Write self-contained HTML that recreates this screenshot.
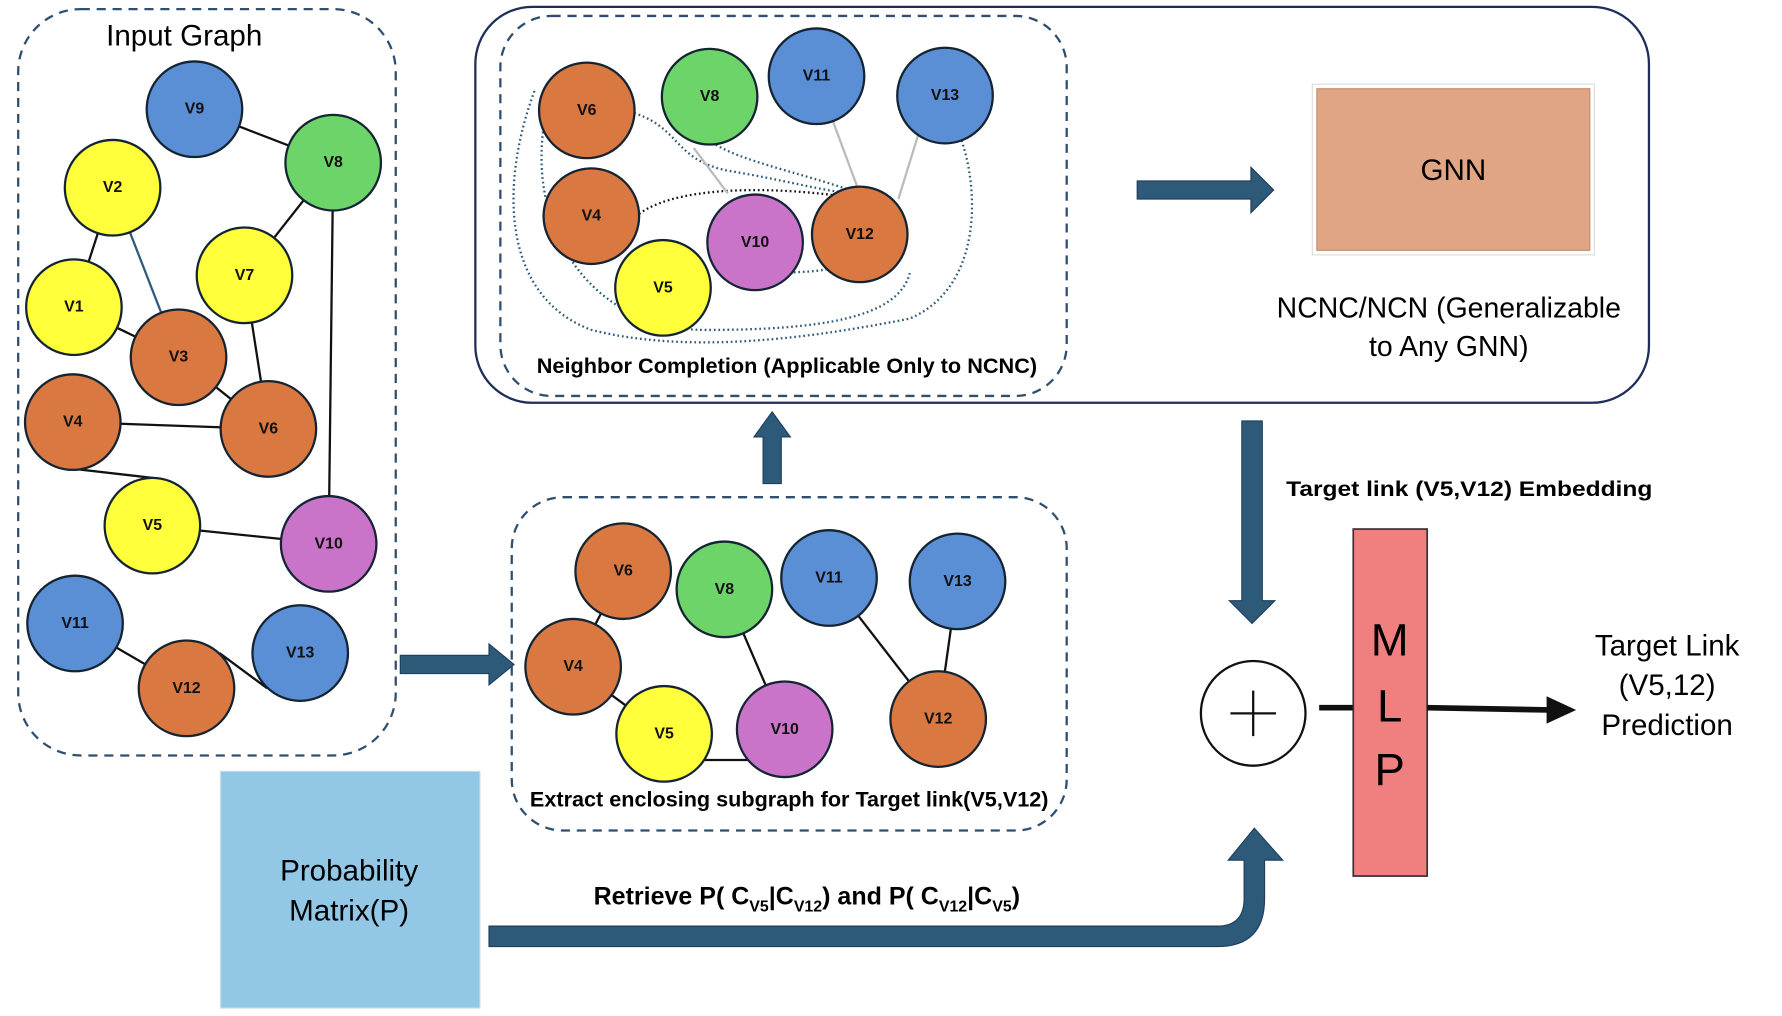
<!DOCTYPE html>
<html><head><meta charset="utf-8"><style>html,body{margin:0;padding:0;background:#fff}svg{display:block}</style></head><body>
<svg width="1782" height="1016" viewBox="0 0 1567 893" preserveAspectRatio="none" xmlns="http://www.w3.org/2000/svg" font-family="Liberation Sans, sans-serif">
<defs>
<style>
.n{stroke:#142433;stroke-width:2}
.b{fill:#5b8fd5}.g{fill:#6dd46a}.y{fill:#ffff3c}.o{fill:#d97840}.p{fill:#c974c8}
.t{font-size:14px;font-weight:bold;text-anchor:middle;dominant-baseline:central;fill:#111}
.e{stroke:#111;stroke-width:2;fill:none}
.d{stroke:#2e5a7a;stroke-width:2;fill:none;stroke-dasharray:1.5 2.5}
</style>
</defs>
<!-- Input graph -->
<rect x="16" y="8" width="332" height="656" rx="55" fill="none" stroke="#2e4f6f" stroke-width="2" stroke-dasharray="8 6"/>
<text x="162" y="40" font-size="26" text-anchor="middle">Input Graph</text>
<g>
<line class="e" x1="171" y1="96" x2="293" y2="143"/>
<line class="e" x1="293" y1="143" x2="215" y2="242"/>
<line class="e" x1="293" y1="143" x2="289" y2="478"/>
<line class="e" x1="99" y1="165" x2="65" y2="270"/>
<line x1="99" y1="165" x2="157" y2="314" stroke="#2e5a7a" stroke-width="2"/>
<line class="e" x1="65" y1="270" x2="157" y2="314"/>
<line class="e" x1="215" y1="242" x2="236" y2="377"/>
<line class="e" x1="157" y1="314" x2="236" y2="377"/>
<line class="e" x1="64" y1="371" x2="236" y2="377"/>
<polyline class="e" points="64,371 64,412 134,420 134,462"/>
<line class="e" x1="134" y1="462" x2="289" y2="478"/>
<line class="e" x1="66" y1="548" x2="164" y2="605"/>
<line class="e" x1="193" y1="574" x2="235" y2="605"/>
</g>
<g>
<circle class="n b" cx="171" cy="96" r="42"/><text class="t" x="171" y="96">V9</text>
<circle class="n g" cx="293" cy="143" r="42"/><text class="t" x="293" y="143">V8</text>
<circle class="n y" cx="99" cy="165" r="42"/><text class="t" x="99" y="165">V2</text>
<circle class="n y" cx="215" cy="242" r="42"/><text class="t" x="215" y="242">V7</text>
<circle class="n y" cx="65" cy="270" r="42"/><text class="t" x="65" y="270">V1</text>
<circle class="n o" cx="157" cy="314" r="42"/><text class="t" x="157" y="314">V3</text>
<circle class="n o" cx="64" cy="371" r="42"/><text class="t" x="64" y="371">V4</text>
<circle class="n o" cx="236" cy="377" r="42"/><text class="t" x="236" y="377">V6</text>
<circle class="n y" cx="134" cy="462" r="42"/><text class="t" x="134" y="462">V5</text>
<circle class="n p" cx="289" cy="478" r="42"/><text class="t" x="289" y="478">V10</text>
<circle class="n b" cx="66" cy="548" r="42"/><text class="t" x="66" y="548">V11</text>
<circle class="n o" cx="164" cy="605" r="42"/><text class="t" x="164" y="605">V12</text>
<circle class="n b" cx="264" cy="574" r="42"/><text class="t" x="264" y="574">V13</text>
</g>
<polygon points="352,576 430,576 430,566 452,584 430,602 430,592 352,592" fill="#2e5a7a" stroke="#1e3e5a"/>
<!-- subgraph -->
<rect x="450" y="437" width="488" height="293" rx="45" fill="none" stroke="#2e4f6f" stroke-width="2" stroke-dasharray="8 6"/>
<line class="e" x1="548" y1="502" x2="504" y2="586"/>
<line class="e" x1="504" y1="586" x2="584" y2="645"/>
<line class="e" x1="637" y1="518" x2="690" y2="641"/>
<line class="e" x1="584" y1="668" x2="690" y2="668"/>
<line class="e" x1="729" y1="508" x2="825" y2="632"/>
<line class="e" x1="842" y1="511" x2="825" y2="632"/>
<circle class="n o" cx="548" cy="502" r="42"/><text class="t" x="548" y="502">V6</text>
<circle class="n g" cx="637" cy="518" r="42"/><text class="t" x="637" y="518">V8</text>
<circle class="n b" cx="729" cy="508" r="42"/><text class="t" x="729" y="508">V11</text>
<circle class="n b" cx="842" cy="511" r="42"/><text class="t" x="842" y="511">V13</text>
<circle class="n o" cx="504" cy="586" r="42"/><text class="t" x="504" y="586">V4</text>
<circle class="n y" cx="584" cy="645" r="42"/><text class="t" x="584" y="645">V5</text>
<circle class="n p" cx="690" cy="641" r="42"/><text class="t" x="690" y="641">V10</text>
<circle class="n o" cx="825" cy="632" r="42"/><text class="t" x="825" y="632">V12</text>
<text x="694" y="709" font-size="19" font-weight="bold" text-anchor="middle" textLength="456" lengthAdjust="spacingAndGlyphs">Extract enclosing subgraph for Target link(V5,V12)</text>
<polygon points="671,425 671,384 663,384 679,362 695,384 687,384 687,425" fill="#2e5a7a" stroke="#1e3e5a"/>
<!-- top box -->
<rect x="418" y="6" width="1032" height="348" rx="50" fill="none" stroke="#1f2d5a" stroke-width="2"/>
<rect x="440" y="14" width="498" height="334" rx="45" fill="none" stroke="#2e4f6f" stroke-width="2" stroke-dasharray="8 6"/>
<path class="d" d="M470,80 C440,160 440,260 520,290 C600,310 700,300 800,280 C870,250 860,150 840,110"/>
<path class="d" d="M480,100 C460,200 520,290 620,290 C720,290 790,280 800,240"/>
<path class="d" d="M550,97 C600,110 590,140 640,150 C700,160 730,170 756,170"/>
<path class="d" d="M620,120 C640,140 700,150 756,170"/>
<path d="M562,188 C600,160 700,165 756,175" stroke="#111" stroke-width="2" stroke-dasharray="1.5 2.5" fill="none"/>
<path class="d" d="M690,240 C710,238 730,240 740,230"/>
<line x1="730" y1="100" x2="756" y2="170" stroke="#bbb" stroke-width="2"/>
<line x1="810" y1="110" x2="790" y2="175" stroke="#bbb" stroke-width="2"/>
<line x1="610" y1="130" x2="640" y2="170" stroke="#bbb" stroke-width="2"/>
<circle class="n o" cx="516" cy="97" r="42"/><text class="t" x="516" y="97">V6</text>
<circle class="n g" cx="624" cy="85" r="42"/><text class="t" x="624" y="85">V8</text>
<circle class="n b" cx="718" cy="67" r="42"/><text class="t" x="718" y="67">V11</text>
<circle class="n b" cx="831" cy="84" r="42"/><text class="t" x="831" y="84">V13</text>
<circle class="n o" cx="520" cy="190" r="42"/><text class="t" x="520" y="190">V4</text>
<circle class="n p" cx="664" cy="213" r="42"/><text class="t" x="664" y="213">V10</text>
<circle class="n o" cx="756" cy="206" r="42"/><text class="t" x="756" y="206">V12</text>
<circle class="n y" cx="583" cy="253" r="42"/><text class="t" x="583" y="253">V5</text>
<text x="692" y="328" font-size="19" font-weight="bold" text-anchor="middle" textLength="440" lengthAdjust="spacingAndGlyphs">Neighbor Completion (Applicable Only to NCNC)</text>
<polygon points="1000,159 1100,159 1100,147 1120,167 1100,187 1100,175 1000,175" fill="#2e5a7a" stroke="#1e3e5a"/>
<rect x="1154" y="74" width="248" height="150" fill="#fff" stroke="#ddd"/>
<rect x="1158" y="78" width="240" height="142" fill="#e0a585" stroke="#c48a6a"/>
<text x="1278" y="158" font-size="26" text-anchor="middle">GNN</text>
<text x="1274" y="279" font-size="25" text-anchor="middle">NCNC/NCN (Generalizable</text>
<text x="1274" y="313" font-size="25" text-anchor="middle">to Any GNN)</text>
<polygon points="1092,370 1110,370 1110,528 1121,528 1101,548 1081,528 1092,528" fill="#2e5a7a" stroke="#1e3e5a"/>
<text x="1131" y="436" font-size="19" font-weight="bold" textLength="322" lengthAdjust="spacingAndGlyphs">Target link (V5,V12) Embedding</text>
<circle cx="1102" cy="627" r="46" fill="#fff" stroke="#111" stroke-width="2"/>
<line x1="1082" y1="627" x2="1122" y2="627" stroke="#111" stroke-width="2"/>
<line x1="1102" y1="607" x2="1102" y2="647" stroke="#111" stroke-width="2"/>
<line x1="1160" y1="622" x2="1190" y2="622" stroke="#111" stroke-width="5"/>
<rect x="1190" y="465" width="65" height="305" fill="#f08080" stroke="#333" stroke-width="1.5"/>
<text x="1222" y="576" font-size="40" text-anchor="middle">M</text>
<text x="1222" y="634" font-size="40" text-anchor="middle">L</text>
<text x="1222" y="690" font-size="40" text-anchor="middle">P</text>
<line x1="1255" y1="622" x2="1362" y2="624" stroke="#111" stroke-width="5"/>
<polygon points="1360,612 1386,624 1360,636" fill="#111"/>
<text x="1466" y="576" font-size="26" text-anchor="middle">Target Link</text>
<text x="1466" y="611" font-size="26" text-anchor="middle">(V5,12)</text>
<text x="1466" y="646" font-size="26" text-anchor="middle">Prediction</text>
<rect x="194" y="678" width="228" height="208" fill="#92c7e6" stroke="#c7dbe8"/>
<text x="307" y="774" font-size="26" text-anchor="middle">Probability</text>
<text x="307" y="809" font-size="26" text-anchor="middle">Matrix(P)</text>
<path d="M430,814 L1070,814 Q1094,814 1094,790 L1094,756 L1080,756 L1103,728 L1128,756 L1112,756 L1112,790 Q1112,832 1070,832 L430,832 Z" fill="#2e5a7a" stroke="#1e3e5a"/>
<text x="522" y="795" font-size="22" font-weight="bold">Retrieve P( C<tspan font-size="14" dy="6">V5</tspan><tspan dy="-6">|C</tspan><tspan font-size="14" dy="6">V12</tspan><tspan dy="-6">) and P( C</tspan><tspan font-size="14" dy="6">V12</tspan><tspan dy="-6">|C</tspan><tspan font-size="14" dy="6">V5</tspan><tspan dy="-6">)</tspan></text>
</svg>
</body></html>
